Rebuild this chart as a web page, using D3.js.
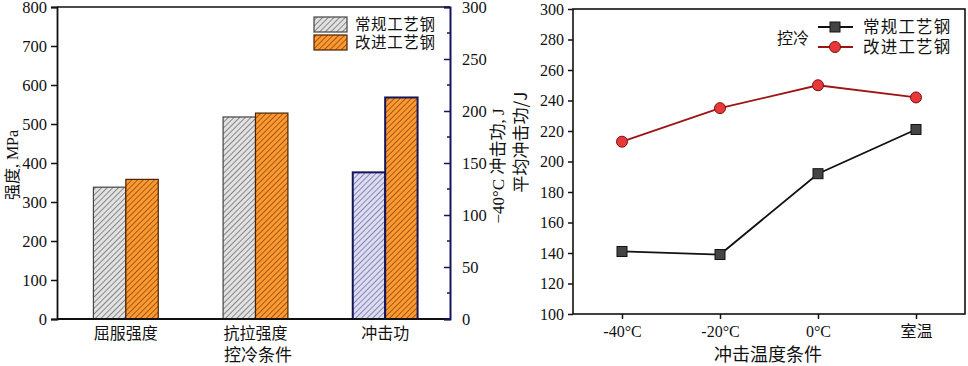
<!DOCTYPE html>
<html><head><meta charset="utf-8">
<script src="https://cdn.jsdelivr.net/npm/d3@7"></script>
<style>
body{margin:0;background:#fff;}
text{font-family:"Liberation Serif","Noto Sans CJK SC",serif;fill:#111;}
.cjk{font-family:"Noto Sans CJK SC","Liberation Serif",sans-serif;}
</style></head>
<body><svg id="c" width="968" height="366"></svg>
<script>
// ---- data ----
const barCategories = ["屈服强度", "抗拉强度", "冲击功"];
const barSeries = ["常规工艺钢", "改进工艺钢"];
const conventionalBar = [338, 518, 141];   // last value on right axis (J)
const improvedBar = [358, 528, 213];       // last value on right axis (J)
const leftTicks = [0, 100, 200, 300, 400, 500, 600, 700, 800];
const rightTicks = [0, 50, 100, 150, 200, 250, 300];

const tempCategories = ["-40°C", "-20°C", "0°C", "室温"];
const conventionalLine = [141, 139, 192, 221];
const improvedLine = [213, 235, 250, 242];
const lineTicks = [100, 120, 140, 160, 180, 200, 220, 240, 260, 280, 300];

const svg = d3.select("#c");
const defs = svg.append("defs");
function hatch(id, bg, fg) {
  const p = defs.append("pattern").attr("id", id).attr("patternUnits", "userSpaceOnUse")
    .attr("width", 4).attr("height", 4).attr("patternTransform", "rotate(45)");
  p.append("rect").attr("width", 4).attr("height", 4).attr("fill", bg);
  p.append("line").attr("x1", 0).attr("y1", 0).attr("x2", 0).attr("y2", 4)
    .attr("stroke", fg).attr("stroke-width", 1.3);
}
hatch("hGrey", "#e2e2e2", "#555");
hatch("hOrange", "#ff9a33", "#6b3300");
hatch("hBlue", "#dcdcf2", "#5a5a8a");

// ---- left chart ----
const L = {left: 57, right: 450, top: 7, bottom: 319};
const navy = "#15155e";
const yL = d3.scaleLinear().domain([0, 800]).range([L.bottom, L.top]);
const yR = d3.scaleLinear().domain([0, 300]).range([L.bottom, L.top]);
const xB = d3.scaleBand().domain(barCategories).range([61, 450]).paddingInner(0.5).paddingOuter(0.25);
const xS = d3.scaleBand().domain(barSeries).range([0, xB.bandwidth()]);

const g1 = svg.append("g");
g1.append("line").attr("x1", L.left).attr("x2", L.right).attr("y1", L.top).attr("y2", L.top)
  .attr("stroke", "#111").attr("stroke-width", 1.5);

const barData = [];
barCategories.forEach((c, i) => {
  const right = i === 2;
  barData.push({c, s: barSeries[0], v: conventionalBar[i], right});
  barData.push({c, s: barSeries[1], v: improvedBar[i], right});
});
g1.selectAll("rect.bar").data(barData).join("rect").attr("class", "bar")
  .attr("x", d => xB(d.c) + xS(d.s))
  .attr("width", xS.bandwidth())
  .attr("y", d => (d.right ? yR : yL)(d.v))
  .attr("height", d => L.bottom - (d.right ? yR : yL)(d.v))
  .attr("fill", d => d.s === barSeries[0] ? (d.right ? "url(#hBlue)" : "url(#hGrey)") : "url(#hOrange)")
  .attr("stroke", d => d.right ? navy : (d.s === barSeries[0] ? "#444" : "#4a2200"))
  .attr("stroke-width", d => d.right ? 2 : 1.2);

const axL = g1.append("g").attr("transform", `translate(${L.left},0)`)
  .call(d3.axisLeft(yL).tickValues(leftTicks).tickSize(6).tickPadding(4).tickFormat(d3.format("d")));
axL.select(".domain").attr("stroke", "#111").attr("stroke-width", 1.8);
axL.selectAll(".tick line").attr("stroke", "#111").attr("stroke-width", 1.5);
axL.selectAll("text").attr("font-size", 16.5).attr("font-family", "Liberation Serif").attr("fill", "#111");

const axB = g1.append("g").attr("transform", `translate(0,${L.bottom})`)
  .call(d3.axisBottom(xB).tickSize(0).tickPadding(9));
axB.select(".domain").attr("d", `M${L.left},0H${L.right}`).attr("stroke", "#111").attr("stroke-width", 1.8);
axB.selectAll("text").attr("font-size", 16).attr("class", "cjk").attr("font-family", "Noto Sans CJK SC").attr("fill", "#111");

const axR = g1.append("g").attr("transform", `translate(${L.right},0)`)
  .call(d3.axisRight(yR).tickValues(rightTicks).tickSize(-6).tickPadding(12).tickFormat(d3.format("d")));
axR.select(".domain").attr("stroke", navy).attr("stroke-width", 2);
axR.selectAll(".tick line").attr("stroke", navy).attr("stroke-width", 1.5);
axR.selectAll("text").attr("font-size", 16.5).attr("font-family", "Liberation Serif").attr("fill", "#111");
const minorR = d3.range(25, 300, 50);
g1.selectAll("line.minR").data(minorR).join("line").attr("class", "minR")
  .attr("x1", L.right - 3).attr("x2", L.right).attr("y1", d => yR(d)).attr("y2", d => yR(d))
  .attr("stroke", navy).attr("stroke-width", 1.5);

g1.append("text").attr("transform", "translate(12,165) rotate(-90)").attr("dy", "0.35em")
  .attr("text-anchor", "middle").attr("font-size", 16).text("强度, MPa");
g1.append("text").attr("transform", "translate(498,166) rotate(-90)").attr("dy", "0.35em")
  .attr("text-anchor", "middle").attr("font-size", 17).text("−40°C 冲击功, J");
g1.append("text").attr("class", "cjk").attr("x", 258).attr("y", 361)
  .attr("text-anchor", "middle").attr("font-size", 17).text("控冷条件");

const lg = g1.append("g");
barSeries.forEach((s, i) => {
  lg.append("rect").attr("x", 314).attr("y", 17 + i * 18).attr("width", 33).attr("height", 15)
    .attr("fill", i === 0 ? "url(#hGrey)" : "url(#hOrange)")
    .attr("stroke", i === 0 ? "#444" : "#4a2200").attr("stroke-width", 1.2);
  lg.append("text").attr("class", "cjk").attr("x", 355).attr("y", 30 + i * 18)
    .attr("font-size", 15.5).attr("letter-spacing", 0.6).text(s);
});

// ---- right chart ----
const R = {left: 573, right: 965, top: 9, bottom: 314};
const xP = d3.scalePoint().domain(tempCategories).range([R.left, R.right]).padding(0.5);
const yP = d3.scaleLinear().domain([100, 300]).range([R.bottom, R.top]);
const g2 = svg.append("g");
g2.append("rect").attr("x", R.left).attr("y", R.top).attr("width", R.right - R.left).attr("height", R.bottom - R.top)
  .attr("fill", "none").attr("stroke", "#111").attr("stroke-width", 1.6);

const ay2 = g2.append("g").attr("transform", `translate(${R.left},0)`)
  .call(d3.axisLeft(yP).tickValues(lineTicks).tickSize(5).tickPadding(4).tickFormat(d3.format("d")));
ay2.select(".domain").remove();
ay2.selectAll(".tick line").attr("stroke", "#111").attr("stroke-width", 1.5);
ay2.selectAll("text").attr("font-size", 16).attr("font-family", "Liberation Serif").attr("fill", "#111");

const ax2 = g2.append("g").attr("transform", `translate(0,${R.bottom})`)
  .call(d3.axisBottom(xP).tickSize(5).tickPadding(7));
ax2.select(".domain").remove();
ax2.selectAll(".tick line").attr("stroke", "#111").attr("stroke-width", 1.5);
ax2.selectAll("text").attr("font-size", 16).attr("font-family", "Liberation Serif, Noto Sans CJK SC").attr("fill", "#111");

const line = d3.line().x((d, i) => xP(tempCategories[i])).y(d => yP(d));
g2.append("path").datum(conventionalLine).attr("d", line).attr("fill", "none").attr("stroke", "#111").attr("stroke-width", 1.8);
g2.append("path").datum(improvedLine).attr("d", line).attr("fill", "none").attr("stroke", "#9c1515").attr("stroke-width", 1.8);
g2.selectAll("rect.m").data(conventionalLine).join("rect").attr("class", "m")
  .attr("x", (d, i) => xP(tempCategories[i]) - 5).attr("y", d => yP(d) - 5)
  .attr("width", 10).attr("height", 10).attr("fill", "#444").attr("stroke", "#111").attr("stroke-width", 1);
g2.selectAll("circle.m").data(improvedLine).join("circle").attr("class", "m")
  .attr("cx", (d, i) => xP(tempCategories[i])).attr("cy", d => yP(d)).attr("r", 5.5)
  .attr("fill", "#e8383a").attr("stroke", "#7a1010").attr("stroke-width", 1);

g2.append("text").attr("class", "cjk").attr("transform", "translate(521,142) rotate(-90)").attr("dy", "0.35em")
  .attr("text-anchor", "middle").attr("font-size", 17).text("平均冲击功/J");
g2.append("text").attr("class", "cjk").attr("x", 768).attr("y", 361)
  .attr("text-anchor", "middle").attr("font-size", 18).text("冲击温度条件");

const lg2 = g2.append("g");
lg2.append("text").attr("class", "cjk").attr("x", 777).attr("y", 44).attr("font-size", 16).text("控冷");
const legendSeries = [{name: "常规工艺钢", color: "#111", mk: "sq"}, {name: "改进工艺钢", color: "#9c1515", mk: "ci"}];
legendSeries.forEach((s, i) => {
  const y = 27 + i * 20;
  lg2.append("line").attr("x1", 818).attr("x2", 853).attr("y1", y).attr("y2", y).attr("stroke", s.color).attr("stroke-width", 1.8);
  if (s.mk === "sq") lg2.append("rect").attr("x", 830).attr("y", y - 5).attr("width", 10).attr("height", 10).attr("fill", "#444").attr("stroke", "#111");
  else lg2.append("circle").attr("cx", 835).attr("cy", y).attr("r", 5.5).attr("fill", "#e8383a").attr("stroke", "#7a1010");
  lg2.append("text").attr("class", "cjk").attr("x", 863).attr("y", y + 6).attr("font-size", 16.5).attr("letter-spacing", 1.2).text(s.name);
});
</script></body></html>
